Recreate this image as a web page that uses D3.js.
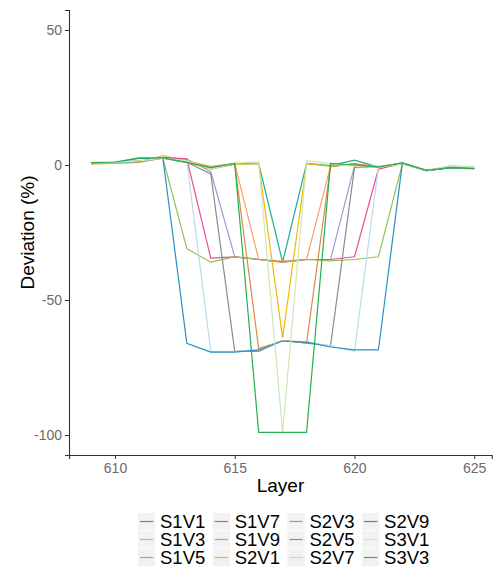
<!DOCTYPE html>
<html>
<head>
<meta charset="utf-8">
<script src="https://cdn.jsdelivr.net/npm/d3@7"></script>
<style>
  body { margin: 0; background: white; }
  text { font-family: "Liberation Sans", Arial, sans-serif; }
</style>
</head>
<body>
<div id="chart"></div>
<script>
// Layers on the x axis
const layers = [609, 610, 611, 612, 613, 614, 615, 616, 617, 618, 619, 620, 621, 622, 623, 624, 625];

// Series names, in legend order
const seriesNames = ["S1V1", "S1V3", "S1V5", "S1V7", "S1V9", "S2V1", "S2V3", "S2V5", "S2V7", "S2V9", "S3V1", "S3V3"];

// Deviation (%) per layer
const S1V1 = [0.8, 1.0, 2.4, 2.5, 1.0, -1.0, 0.6, 0.5, -36, 0.6, -0.2, 1.8, -0.8, 0.8, -2.0, -1.0, -1.2];
const S1V3 = [0.5, 0.8, 1.0, 3.5, 1.5, -0.5, 0.5, -35, -35.5, -35, -0.5, 0.3, -0.5, 0.5, -2.0, -1.0, -1.5];
const S1V5 = [0.6, 0.9, 1.2, 2.5, 2.2, -2.5, -34, -35, -36, -35, -35, -0.3, -0.8, 0.6, -2.1, -1.0, -1.3];
const S1V7 = [0.6, 0.9, 1.2, 2.8, 2.3, -34.5, -34, -35, -36, -35, -35, -34, -1.5, 0.6, -2.0, -1.0, -1.2];
const S1V9 = [0.7, 1.0, 1.5, 2.5, -31, -36, -34, -35, -36, -35, -35.5, -35, -34, 0.4, -2.0, -0.4, -0.8];
const S2V1 = [0.4, 0.6, 1.0, 2.5, 1.5, -1.0, 0.2, 0.5, -64, 0.5, -0.5, 0.4, -0.8, 0.6, -2.1, -0.8, -1.2];
const S2V3 = [0.5, 0.8, 1.1, 2.6, 1.2, -1.5, 0.3, -68, -65, -66, -0.6, 0.5, -0.8, 0.6, -2.1, -1.0, -1.2];
const S2V5 = [0.6, 0.9, 1.2, 2.6, 1.0, -3.3, -69, -69, -65, -66, -67, -1.0, -0.8, 0.6, -2.1, -1.0, -1.3];
const S2V7 = [0.7, 0.9, 1.3, 2.5, 1.5, -69, -69, -68.5, -65, -65.5, -67, -69, -0.8, 0.6, -2.1, -1.0, -1.2];
const S2V9 = [0.7, 1.0, 1.4, 2.6, -66, -69.3, -69.3, -68.5, -65.2, -65.6, -67.4, -68.5, -68.5, 0.6, -2.1, -1.0, -1.3];
const S3V1 = [0.8, 1.0, 1.5, 2.5, 1.5, -1.5, 0.6, 1.2, -99, 1.6, 0.5, -0.5, -1.0, 0.6, -2.1, -0.3, -0.8];
const S3V3 = [0.9, 1.1, 2.6, 2.6, 1.0, -1.0, 0.6, -99, -99, -99, 0.6, 0.0, -0.8, 0.8, -2.0, -1.0, -1.3];

const seriesValues = [S1V1, S1V3, S1V5, S1V7, S1V9, S2V1, S2V3, S2V5, S2V7, S2V9, S3V1, S3V3];

const seriesColors = ["#1bad96", "#f6a26b", "#a09ccf", "#ee4c8f", "#93c05a", "#f5b800",
                      "#dd8a45", "#8c8c8c", "#b5dcec", "#2a8fc6", "#cde8b5", "#25b050"];

const xTicks = [610, 615, 620, 625];
const yTicks = [50, 0, -50, -100];

let width = 497,
    height = 570;

let margin = { top: 10, bottom: 115, left: 69, right: 5 };

let svg = d3.select('#chart')
  .append('svg')
  .attr('width', width)
  .attr('height', height)
  .style('background', 'white');

// scales (range measured from the plot panel)
let xScale = d3.scaleLinear()
  .domain([608.08, 625.73])
  .range([margin.left, width - margin.right - 0.3]);

let yScale = d3.scaleLinear()
  .domain([-107.4, 57.4])
  .range([height - margin.bottom, margin.top]);

// axes (plain hyphen for negatives, like the original)
let xAxis = svg.append('g')
  .attr('transform', `translate(0,${height - margin.bottom})`)
  .call(d3.axisBottom(xScale).tickValues(xTicks).tickSize(4).tickPadding(4).tickFormat(d => String(d)));

let yAxis = svg.append('g')
  .attr('transform', `translate(${margin.left},0)`)
  .call(d3.axisLeft(yScale).tickValues(yTicks).tickSize(4).tickPadding(3).tickFormat(d => String(d)));

[xAxis, yAxis].forEach(ax => {
  ax.select('.domain').attr('stroke', '#333').attr('stroke-width', 1.1);
  ax.selectAll('.tick line').attr('stroke', '#333');
  ax.selectAll('.tick text')
    .attr('fill', '#6b6b6b')
    .style('font-size', '14px')
    .style('font-family', '"Liberation Sans", Arial, sans-serif');
});

// axis titles
svg.append('text')
  .attr('x', (margin.left + width - margin.right) / 2)
  .attr('y', 492)
  .attr('text-anchor', 'middle')
  .style('font-size', '19px')
  .text('Layer');

svg.append('text')
  .attr('transform', `translate(34,${(margin.top + height - margin.bottom) / 2}) rotate(-90)`)
  .attr('text-anchor', 'middle')
  .style('font-size', '19px')
  .text('Deviation (%)');

// lines
let line = d3.line()
  .x((d, i) => xScale(layers[i]))
  .y(d => yScale(d));

seriesValues.forEach((vals, k) => {
  svg.append('path')
    .datum(vals)
    .attr('d', line)
    .attr('fill', 'none')
    .attr('stroke', seriesColors[k])
    .attr('stroke-width', 1.2);
});

// legend, 4 columns x 3 rows, filled by column
const legend = svg.append('g');

seriesNames.forEach((name, k) => {
  let col = Math.floor(k / 3),
      row = k % 3;
  let kx = 138 + col * 74.7,
      ky = 521.5 + row * 18;

  legend.append('rect')
    .attr('x', kx)
    .attr('y', ky - 8.6)
    .attr('width', 17.3)
    .attr('height', 17.3)
    .attr('fill', '#f2f2f2');

  legend.append('line')
    .attr('x1', kx + 2)
    .attr('x2', kx + 15.3)
    .attr('y1', ky)
    .attr('y2', ky)
    .attr('stroke', seriesColors[k])
    .attr('stroke-width', 1.2);

  legend.append('text')
    .attr('x', kx + 22)
    .attr('y', ky + 6.8)
    .style('font-size', '18.5px')
    .text(name);
});
</script>
</body>
</html>
